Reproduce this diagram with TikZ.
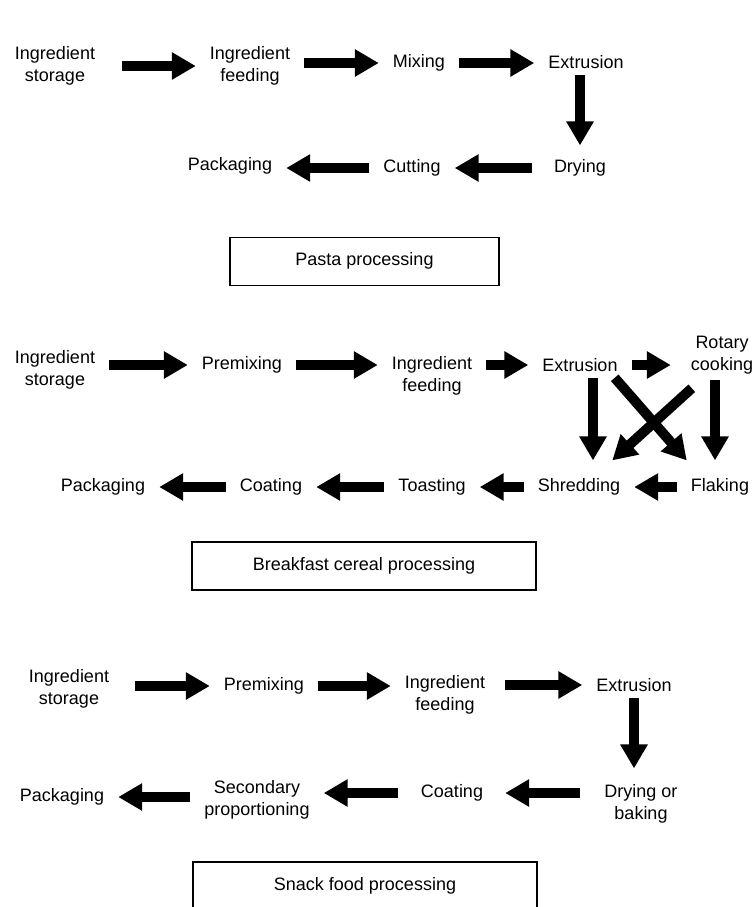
\documentclass[tikz,border=0pt]{standalone}
\usepackage{fontspec}
\setmainfont{Liberation Sans}
\usetikzlibrary{arrows.meta}

\begin{document}
\begin{tikzpicture}[x=1pt, y=-1pt,
    stage/.style={font=\fontsize{18}{22}\selectfont, align=center, inner xsep=14pt, inner ysep=6pt},
    flow/.style={line width=10pt, -{Triangle[width=26pt, length=24pt]}},
    caption/.style={draw, line width=1.6pt, font=\fontsize{18}{22}\selectfont, minimum height=48pt}
]
\clip (0,0) rectangle (752,907);

% Pasta processing
\node[stage] (stor1) at (55,66) {Ingredient\\storage};
\node[stage] (feed1) at (250,66) {Ingredient\\feeding};
\node[stage] (mix1) at (419,63) {Mixing};
\node[stage] (extr1) at (586,62) {Extrusion};
\node[stage] (dry1) at (580,168) {Drying};
\node[stage] (cut1) at (412,168) {Cutting};
\node[stage] (pack1) at (230,166) {Packaging};

\draw[flow, shorten <=13pt] (stor1.east) -- (feed1.west);
\draw[flow] (feed1.east |- mix1) -- (mix1.west);
\draw[flow] (mix1.east) -- (mix1.east -| extr1.west);
\draw[flow, shorten >=8pt] (dry1.north |- extr1.south) -- (dry1.north);
\draw[flow, shorten <=8pt] (dry1.west) -- (cut1.east);
\draw[flow] (cut1.west) -- (cut1.west -| pack1.east);

\node[caption, minimum width=269pt] (pasta) at (364.5,261.5) {\raisebox{5pt}{Pasta processing}};

% Breakfast cereal processing
\node[stage] (stor2) at (55,370) {Ingredient\\storage};
\node[stage] (prem2) at (242,365) {Premixing};
\node[stage] (feed2) at (432,376) {Ingredient\\feeding};
\node[stage] (extr2) at (580,365) {Extrusion};
\node[stage] (rot2) at (722,355) {Rotary\\cooking};
\node[stage] (flak2) at (720,487) {Flaking};
\node[stage] (shred2) at (579,487) {Shredding};
\node[stage] (toast2) at (432,487) {Toasting};
\node[stage] (coat2) at (271,487) {Coating};
\node[stage] (pack2) at (103,487) {Packaging};

\draw[flow] (stor2.east |- prem2) -- (prem2.west);
\draw[flow] (prem2.east) -- (prem2.east -| feed2.west);
\draw[flow] (extr2.west -| feed2.east) -- (extr2.west);
\draw[flow, shorten >=6pt] (extr2.east) -- (extr2.east -| rot2.west);
\draw[flow] ([xshift=13pt]extr2.south) -- ([xshift=14pt, yshift=12pt]shred2.north);
\draw[flow] ([xshift=-7pt]rot2.south) -- ([xshift=-5pt, yshift=12pt]flak2.north);
\draw[flow] ([xshift=-17pt]extr2.south east) -- ([xshift=10pt, yshift=12pt]flak2.north west);
\draw[flow] ([xshift=15pt, yshift=-8pt]rot2.south west) -- ([xshift=-22pt, yshift=12pt]shred2.north east);
\draw[flow] (flak2.west) -- (shred2.east);
\draw[flow] (shred2.west) -- (toast2.east);
\draw[flow] (toast2.west) -- (coat2.east);
\draw[flow] (coat2.west) -- (pack2.east);

\node[caption, minimum width=344pt] (cereal) at (364,566) {\raisebox{3pt}{Breakfast cereal processing}};

% Snack food processing
\node[stage] (stor3) at (69,689) {Ingredient\\storage};
\node[stage] (prem3) at (264,686) {Premixing};
\node[stage] (feed3) at (445,695) {Ingredient\\feeding};
\node[stage] (extr3) at (634,685) {Extrusion};
\node[stage] (bake3) at (641,804) {Drying or\\baking};
\node[stage] (coat3) at (452,793) {Coating};
\node[stage] (sec3) at (257,800) {Secondary\\proportioning};
\node[stage] (pack3) at (62,797) {Packaging};

\draw[flow, shorten <=12pt] (stor3.east |- prem3) -- (prem3.west);
\draw[flow] (prem3.east) -- (prem3.east -| feed3.west);
\draw[flow, shorten <=6pt] (extr3.west -| feed3.east) -- (extr3.west);
\draw[flow, shorten >=10pt] (extr3.south) -- (extr3.south |- bake3.north);
\draw[flow, shorten <=10pt, shorten >=8pt] (bake3.west |- coat3) -- (coat3.east);
\draw[flow, shorten <=9pt] (coat3.west) -- (coat3.west -| sec3.east);
\draw[flow] (pack3.east -| sec3.west) -- (pack3.east);

\node[caption, minimum width=344pt] (snack) at (365,886) {\raisebox{4pt}{Snack food processing}};
\end{tikzpicture}
\end{document}
